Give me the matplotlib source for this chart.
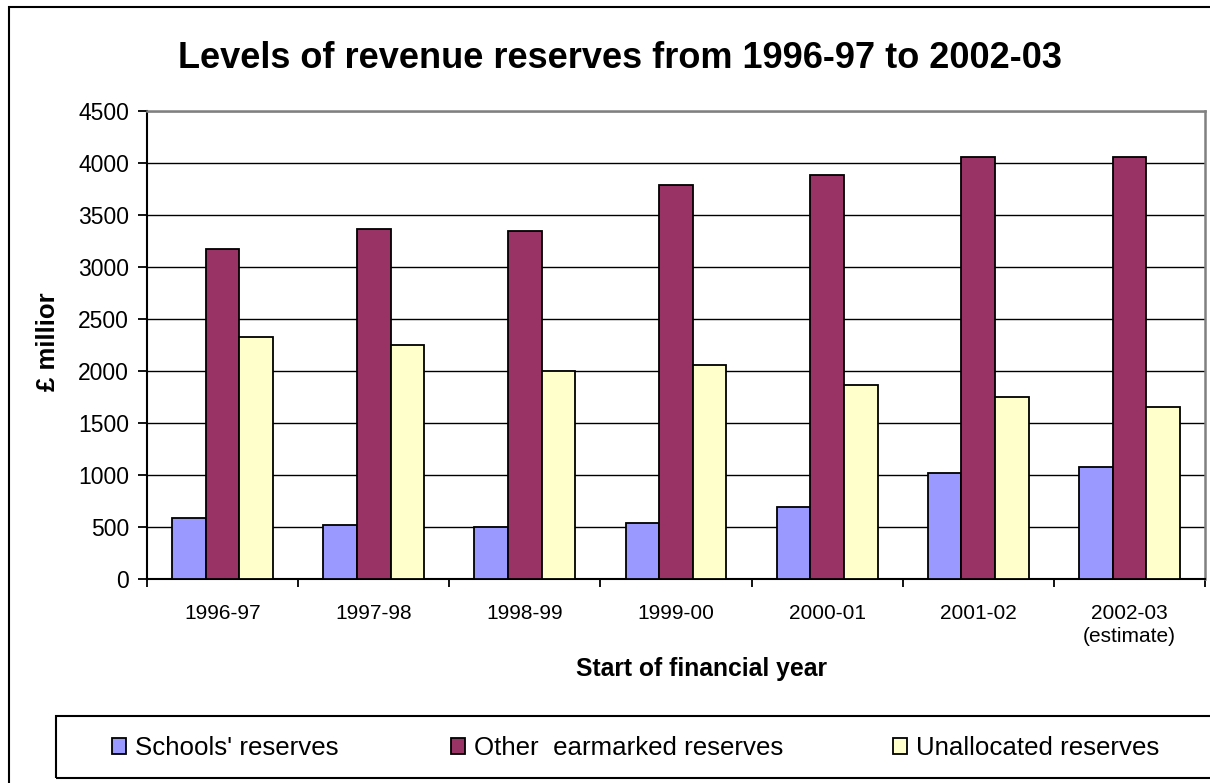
import numpy as np
import matplotlib.pyplot as plt
from matplotlib.patches import Rectangle

plt.rcParams['font.family'] = ['Liberation Sans', 'DejaVu Sans']

years = ["1996-97", "1997-98", "1998-99", "1999-00", "2000-01", "2001-02", "2002-03\n(estimate)"]
schools = [590, 515, 496, 535, 688, 1019, 1073]
earmarked = [3173, 3365, 3346, 3788, 3885, 4058, 4058]
unallocated = [2323, 2246, 1996, 2054, 1862, 1746, 1654]

names = ["Schools' reserves", "Other  earmarked reserves", "Unallocated reserves"]
colors = ["#9999FF", "#993366", "#FFFFCC"]
legend_x = [112, 451, 893]  # left edge of each legend key, px

W, H = 1210, 783
fig = plt.figure(figsize=(W / 100, H / 100), dpi=100)

def fx(px):
    return px / W

def fy(py):
    return 1 - py / H

# outer chart frame
fig.patches.append(Rectangle((fx(9), -0.1), 1.2, fy(7) + 0.1, transform=fig.transFigure,
                             fill=False, edgecolor="black", linewidth=1.5))

ax = fig.add_axes([fx(147), fy(579), 1058 / W, 468 / H])

x = np.arange(len(years))
bw = 1 / 4.5
bars = []
for i, (vals, c, n) in enumerate(zip([schools, earmarked, unallocated], colors, names)):
    b = ax.bar(x + (i - 1) * bw, vals, width=bw, color=c, edgecolor="black", linewidth=1.3,
               label=n, zorder=3)
    bars.append(b)

ax.set_xlim(-0.5, len(years) - 0.5)
ax.set_ylim(0, 4500)
ax.set_yticks(np.arange(0, 4501, 500))
ax.yaxis.grid(True, color="black", linewidth=1, zorder=0)
ax.set_axisbelow(True)

ax.set_xticks(np.arange(-0.5, len(years), 1))
ax.set_xticklabels([])
ax.set_xticks(x, minor=True)
ax.set_xticklabels(years, minor=True, fontsize=15, linespacing=1.25)
ax.tick_params(axis="x", which="minor", length=0, pad=18)
ax.tick_params(axis="x", which="major", length=6, width=1.3, direction="out")
ax.tick_params(axis="y", length=6.5, width=1.3, labelsize=16.5, pad=6.5)

for s in ["top", "right"]:
    ax.spines[s].set_color("#808080")
    ax.spines[s].set_linewidth(1.8)
for s in ["left", "bottom"]:
    ax.spines[s].set_linewidth(1.5)

fig.text(fx(178), fy(68), "Levels of revenue reserves from 1996-97 to 2002-03",
         ha="left", va="baseline", fontsize=26, fontweight="bold")
fig.text(fx(48), fy(342), "£ millior", rotation=90, ha="center", va="center",
         fontsize=18.5, fontweight="bold")
fig.text(fx(576), fy(676), "Start of financial year", ha="left", va="baseline",
         fontsize=17.8, fontweight="bold")

# legend box with one key per series
fig.patches.append(Rectangle((fx(56), fy(778)), 1.2, 62 / H, transform=fig.transFigure,
                             fill=False, edgecolor="black", linewidth=1.5))
for b, n, lx in zip(bars, names, legend_x):
    fig.legend([b], [n], loc="center left", bbox_to_anchor=(fx(lx), fy(748)),
               frameon=False, fontsize=18.6, handlelength=0.54, handleheight=0.62,
               handletextpad=0.35, borderpad=0, borderaxespad=0)

fig.savefig("out.png", dpi=100)
